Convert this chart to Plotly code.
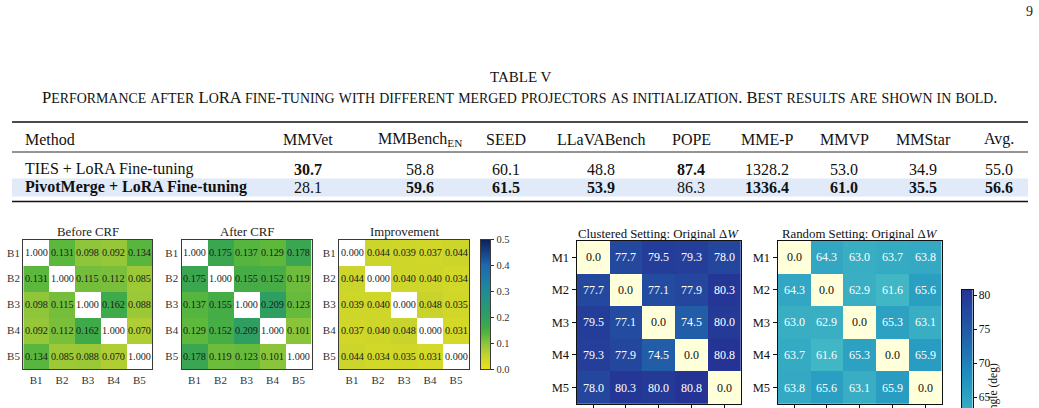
import numpy as np
import plotly.graph_objects as go

W, H = 1039, 408
FONT = "Liberation Serif"

# ---------------- data ----------------
methods = ["TIES + LoRA Fine-tuning", "PivotMerge + LoRA Fine-tuning"]
benchmarks = ["MMVet", "MMBench<sub>EN</sub>", "SEED", "LLaVABench", "POPE",
              "MME-P", "MMVP", "MMStar", "Avg."]
ties_scores = [30.7, 58.8, 60.1, 48.8, 87.4, 1328.2, 53.0, 34.9, 55.0]
pivot_scores = [28.1, 59.6, 61.5, 53.9, 86.3, 1336.4, 61.0, 35.5, 56.6]

b_labels = ["B1", "B2", "B3", "B4", "B5"]
m_labels = ["M1", "M2", "M3", "M4", "M5"]

before_crf = [[1.000, 0.131, 0.098, 0.092, 0.134],
              [0.131, 1.000, 0.115, 0.112, 0.085],
              [0.098, 0.115, 1.000, 0.162, 0.088],
              [0.092, 0.112, 0.162, 1.000, 0.070],
              [0.134, 0.085, 0.088, 0.070, 1.000]]
after_crf = [[1.000, 0.175, 0.137, 0.129, 0.178],
             [0.175, 1.000, 0.155, 0.152, 0.119],
             [0.137, 0.155, 1.000, 0.209, 0.123],
             [0.129, 0.152, 0.209, 1.000, 0.101],
             [0.178, 0.119, 0.123, 0.101, 1.000]]
improvement = [[0.000, 0.044, 0.039, 0.037, 0.044],
               [0.044, 0.000, 0.040, 0.040, 0.034],
               [0.039, 0.040, 0.000, 0.048, 0.035],
               [0.037, 0.040, 0.048, 0.000, 0.031],
               [0.044, 0.034, 0.035, 0.031, 0.000]]
clustered = [[0.0, 77.7, 79.5, 79.3, 78.0],
             [77.7, 0.0, 77.1, 77.9, 80.3],
             [79.5, 77.1, 0.0, 74.5, 80.0],
             [79.3, 77.9, 74.5, 0.0, 80.8],
             [78.0, 80.3, 80.0, 80.8, 0.0]]
random_set = [[0.0, 64.3, 63.0, 63.7, 63.8],
              [64.3, 0.0, 62.9, 61.6, 65.6],
              [63.0, 62.9, 0.0, 65.3, 63.1],
              [63.7, 61.6, 65.3, 0.0, 65.9],
              [63.8, 65.6, 63.1, 65.9, 0.0]]

sim_ticks = [0.0, 0.1, 0.2, 0.3, 0.4, 0.5]
angle_ticks = [65, 70, 75, 80]

# ---------------- styles ----------------
GREEN_SCALE = [[0.0, "#ecdf1a"], [0.1, "#c6d42e"], [0.2, "#8cc43a"],
               [0.26, "#5cb83c"], [0.32, "#40aa48"], [0.42, "#2e9e62"],
               [0.6, "#1f8c96"], [0.8, "#1f68b0"], [1.0, "#0d1f5c"]]
SIM_MIN, SIM_MAX = 0.0, 0.5
BLUE_SCALE = [[0.0, "#ffffd9"], [0.143, "#edf8b1"], [0.286, "#c7e9b4"],
              [0.429, "#7fcdbb"], [0.571, "#41b6c4"], [0.714, "#1d91c0"],
              [0.857, "#225ea8"], [1.0, "#253494"]]
ANG_MIN, ANG_MAX = 36.0, 80.8


def px(x):
    return x / W


def py(y):
    return 1 - y / H


def fnt(size, color="#111"):
    return dict(family=FONT, size=size, color=color)


fig = go.Figure()
layout = dict(width=W, height=H, margin=dict(l=0, r=0, t=0, b=0),
              paper_bgcolor="white", plot_bgcolor="white",
              showlegend=False, template="none", font=fnt(12))
annotations = []
shapes = []


def ptext(x, y, text, size, color="#111", xanchor="center", **kw):
    annotations.append(dict(x=px(x), y=py(y), xref="paper", yref="paper", text=text,
                            showarrow=False, xanchor=xanchor, yanchor="middle",
                            font=fnt(size, color), **kw))


def axis_names(i):
    return ("xaxis" if i == 1 else f"xaxis{i}", "yaxis" if i == 1 else f"yaxis{i}",
            "x" if i == 1 else f"x{i}", "y" if i == 1 else f"y{i}")


def make_axes(i, x0, x1, y0, y1, xkw, ykw):
    xa, ya, xr, yr = axis_names(i)
    layout[xa] = dict(domain=[px(x0), px(x1)], anchor=yr, automargin=False,
                      showgrid=False, zeroline=False, **xkw)
    layout[ya] = dict(domain=[py(y1), py(y0)], anchor=xr, automargin=False,
                      showgrid=False, zeroline=False, **ykw)
    return xr, yr


# ---------------- page text ----------------
ptext(1029, 11, "9", 14, "#222")
ptext(521, 77, "TABLE V", 15)


def small_caps(s, small):
    out, buf = [], ""
    for ch in s:
        if ch.islower():
            buf += ch.upper()
        else:
            if buf:
                out.append(f'<span style="font-size:{small}px">{buf}</span>')
                buf = ""
            out.append(ch)
    if buf:
        out.append(f'<span style="font-size:{small}px">{buf}</span>')
    return "".join(out)


caption = ("Performance after LoRA fine-tuning with different merged projectors as "
           "initialization. Best results are shown in bold.")
ptext(519, 97, small_caps(caption, 13.9), 16.6)

# ---------------- table ----------------
TX0, TX1 = 12, 1028
shapes.append(dict(type="rect", xref="paper", yref="paper", x0=px(TX0), x1=px(TX1),
                   y0=py(196.5), y1=py(178.5), fillcolor="#e0eaf9", line=dict(width=0),
                   layer="below"))
for yy, lw in [(122, 1.6), (152, 0.9), (201.5, 1.6)]:
    shapes.append(dict(type="line", xref="paper", yref="paper", x0=px(TX0), x1=px(TX1),
                       y0=py(yy), y1=py(yy), line=dict(color="#111", width=lw)))

col_x = [308, 420, 506, 601, 691, 767, 844, 923, 999]
TFS = 16
ptext(23, 139, "Method", TFS, xanchor="left")
for cx, name in zip(col_x, benchmarks):
    ptext(cx, 139, name, TFS)

rows = [(methods[0], ties_scores, False, 169), (methods[1], pivot_scores, True, 187.5)]
for name, scores, bold_name, yy in rows:
    ptext(23, yy, f"<b>{name}</b>" if bold_name else name, TFS, xanchor="left")
    for k, (cx, v) in enumerate(zip(col_x, scores)):
        best = max(ties_scores[k], pivot_scores[k])
        s = f"{v:.1f}"
        if v == best:
            s = f"<b>{s}</b>"
        ptext(cx, yy, s, TFS)

# ---------------- left heatmaps ----------------
left_panels = [("Before CRF", before_crf, 23.3, 152.3),
               ("After CRF", after_crf, 181.5, 311.5),
               ("Improvement", improvement, 339.0, 469.0)]
LY0, LY1 = 239.7, 369.3
ax_i = 1
for title, mat, x0, x1 in left_panels:
    n = len(mat)
    xr, yr = make_axes(
        ax_i, x0, x1, LY0, LY1,
        dict(range=[-0.5, n - 0.5], tickvals=list(range(n)), ticktext=b_labels,
             ticks="", showline=True, mirror=True, linecolor="#3a3a3a", linewidth=1.3,
             tickfont=fnt(11, "#333"), side="bottom"),
        dict(range=[n - 0.5, -0.5], tickvals=list(range(n)), ticktext=b_labels,
             ticks="", showline=True, mirror=True, linecolor="#3a3a3a", linewidth=1.3,
             tickfont=fnt(11, "#333")))
    masked = [[None if i == j else mat[i][j] for j in range(n)] for i in range(n)]
    fig.add_trace(go.Heatmap(z=masked, x=list(range(n)), y=list(range(n)),
                             colorscale=GREEN_SCALE, zmin=SIM_MIN, zmax=SIM_MAX,
                             showscale=False, hoverinfo="skip", xaxis=xr, yaxis=yr))
    for i in range(n):
        for j in range(n):
            annotations.append(dict(x=j, y=i, xref=xr, yref=yr, text=f"{mat[i][j]:.3f}",
                                    showarrow=False, font=fnt(10.2, "#1a1a1a")))
    ptext((x0 + x1) / 2, 232, title, 12.8, "#222")
    ax_i += 1

# colorbar 1 (as a heatmap strip)
cb_vals = np.linspace(SIM_MIN, SIM_MAX, 256)
xr, yr = make_axes(
    ax_i, 481, 490.3, 239.5, 369.3,
    dict(range=[-0.5, 0.5], showticklabels=False, ticks="", showline=True, mirror=True,
         linecolor="#3a3a3a", linewidth=1),
    dict(range=[SIM_MIN, SIM_MAX], side="right", tickvals=sim_ticks,
         ticktext=[f"{t:.1f}" for t in sim_ticks], ticks="outside", ticklen=3,
         tickcolor="#333", showline=True, mirror=True, linecolor="#3a3a3a", linewidth=1,
         tickfont=fnt(10.5, "#333")))
fig.add_trace(go.Heatmap(z=[[v] for v in cb_vals], x=[0], y=cb_vals,
                         colorscale=GREEN_SCALE, zmin=SIM_MIN, zmax=SIM_MAX,
                         showscale=False, hoverinfo="skip", xaxis=xr, yaxis=yr))
ax_i += 1

# ---------------- right heatmaps ----------------
right_panels = [("Clustered Setting: Original Δ<i>W</i>", clustered, 576.7, 741.0),
                ("Random Setting: Original Δ<i>W</i>", random_set, 777.7, 941.7)]
RY0, RY1 = 241.0, 403.8
for title, mat, x0, x1 in right_panels:
    n = len(mat)
    xr, yr = make_axes(
        ax_i, x0, x1, RY0, RY1,
        dict(range=[-0.5, n - 0.5], tickvals=list(range(n)), ticktext=m_labels,
             ticks="outside", ticklen=4, tickcolor="#111", showline=True, mirror=True,
             linecolor="#111", linewidth=1.3, tickfont=fnt(12.5)),
        dict(range=[n - 0.5, -0.5], tickvals=list(range(n)), ticktext=m_labels,
             ticks="outside", ticklen=4, tickcolor="#111", showline=True, mirror=True,
             linecolor="#111", linewidth=1.3, tickfont=fnt(12.5)))
    fig.add_trace(go.Heatmap(z=mat, x=list(range(n)), y=list(range(n)),
                             colorscale=BLUE_SCALE, zmin=ANG_MIN, zmax=ANG_MAX,
                             showscale=False, hoverinfo="skip", xaxis=xr, yaxis=yr))
    for i in range(n):
        for j in range(n):
            annotations.append(dict(x=j, y=i, xref=xr, yref=yr, text=f"{mat[i][j]:.1f}",
                                    showarrow=False,
                                    font=fnt(12, "#111" if i == j else "white")))
    ptext((x0 + x1) / 2, 234, title, 12.8)
    ax_i += 1

# colorbar 2 (strip, bottom part runs off the page)
cb2_vals = np.linspace(ANG_MIN, ANG_MAX, 400)
xr, yr = make_axes(
    ax_i, 962, 972.5, 290, 408,
    dict(range=[-0.5, 0.5], showticklabels=False, ticks="", showline=True, mirror=True,
         linecolor="#111", linewidth=1),
    dict(range=[63.45, ANG_MAX], side="right", tickvals=angle_ticks,
         ticktext=[str(t) for t in angle_ticks], ticks="outside", ticklen=3,
         tickcolor="#111", showline=True, mirror=True, linecolor="#111", linewidth=1,
         tickfont=fnt(11.5)))
fig.add_trace(go.Heatmap(z=[[v] for v in cb2_vals], x=[0], y=cb2_vals,
                         colorscale=BLUE_SCALE, zmin=ANG_MIN, zmax=ANG_MAX,
                         showscale=False, hoverinfo="skip", xaxis=xr, yaxis=yr))
ptext(993, 391.5, "Angle (deg)", 11.5, textangle=-90)

layout["annotations"] = annotations
layout["shapes"] = shapes
fig.update_layout(**layout)
fig.write_html("out.html")
